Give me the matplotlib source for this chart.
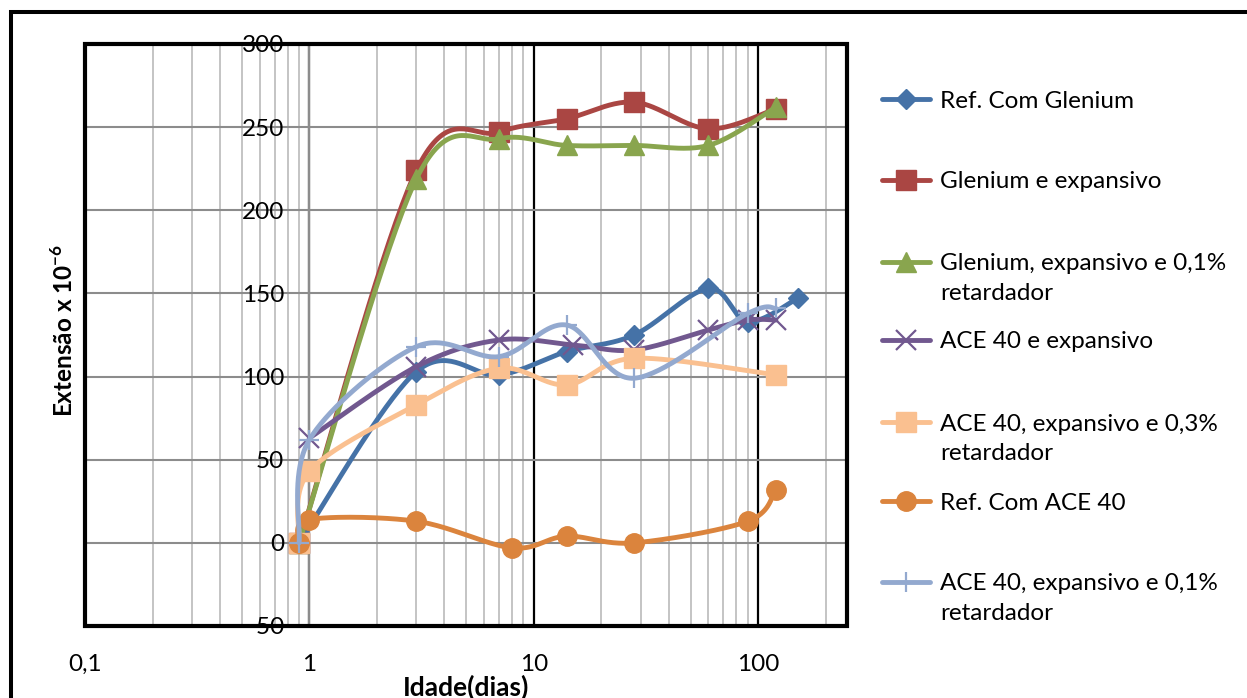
import numpy as np
import matplotlib
matplotlib.use("Agg")
import matplotlib.pyplot as plt
from matplotlib.lines import Line2D
from matplotlib.patches import Rectangle
from matplotlib.ticker import FixedLocator, FixedFormatter, LogLocator, NullFormatter

# ---- data: age (days) and strain (x 10^-6) for each mix ----
age_ref_glenium = [0.9, 3, 7, 14, 28, 60, 90, 150]
ext_ref_glenium = [0, 103, 101, 115, 125, 153, 133, 147]

age_glenium_exp = [0.9, 3, 7, 14, 28, 60, 120]
ext_glenium_exp = [0, 224, 247, 255, 265, 249, 261]

age_glenium_exp_ret = [0.9, 3, 7, 14, 28, 60, 120]
ext_glenium_exp_ret = [0, 219, 243, 239, 239, 239, 262]

age_ace_exp = [1, 3, 7, 15, 28, 60, 90, 120]
ext_ace_exp = [63, 106, 122, 119, 116, 128, 134, 134]

age_ace_exp_ret03 = [0.9, 1, 3, 7, 14, 28, 120]
ext_ace_exp_ret03 = [0, 43, 83, 105, 95, 111, 101]

age_ref_ace = [0.9, 1, 3, 8, 14, 28, 90, 120]
ext_ref_ace = [0, 14, 13, -3, 4, 0, 13, 32]

age_ace_exp_ret01 = [0.9, 1, 3, 7, 14, 28, 90, 120]
ext_ace_exp_ret01 = [0, 62, 118, 112, 131, 99, 138, 141]

labels = [
    "Ref. Com Glenium",
    "Glenium e expansivo",
    "Glenium, expansivo e 0,1%\nretardador",
    "ACE 40 e expansivo",
    "ACE 40, expansivo e 0,3%\nretardador",
    "Ref. Com ACE 40",
    "ACE 40, expansivo e 0,1%\nretardador",
]

x_ticks = [0.1, 1, 10, 100]
x_tick_labels = ["0,1", "1", "10", "100"]
y_ticks = [-50, 0, 50, 100, 150, 200, 250, 300]

# ---- styling ----
W, H = 1247, 698
plt.rcParams["font.family"] = ["Lato", "DejaVu Sans"]
plt.rcParams["mathtext.fontset"] = "custom"
plt.rcParams["mathtext.rm"] = "Lato"
plt.rcParams["mathtext.bf"] = "Lato:bold"
FS = 17.5

series = [
    (age_ref_glenium, ext_ref_glenium, "#4572A7", dict(marker="D", ms=10)),
    (age_glenium_exp, ext_glenium_exp, "#AA4643", dict(marker="s", ms=14)),
    (age_glenium_exp_ret, ext_glenium_exp_ret, "#89A54E", dict(marker="^", ms=14)),
    (age_ace_exp, ext_ace_exp, "#71588F", dict(marker="x", ms=14, mew=1.6)),
    (age_ace_exp_ret03, ext_ace_exp_ret03, "#FAC090", dict(marker="s", ms=14)),
    (age_ref_ace, ext_ref_ace, "#DB843D", dict(marker="o", ms=14)),
    (age_ace_exp_ret01, ext_ace_exp_ret01, "#93A9CF", dict(marker="+", ms=14, mew=1.6)),
]


def smooth(xs, ys, steps=40):
    """Cubic Bezier smoothing in (log10 x, y) space, spreadsheet style."""
    p = np.column_stack([np.log10(xs), np.asarray(ys, float)])
    pe = np.vstack([p[0], p, p[-1]])
    t = np.linspace(0, 1, steps)[:, None]
    out = []
    for i in range(len(p) - 1):
        p0, p1, p2, p3 = pe[i], pe[i + 1], pe[i + 2], pe[i + 3]
        c1 = p1 + (p2 - p0) / 6.0
        c2 = p2 - (p3 - p1) / 6.0
        seg = ((1 - t) ** 3) * p1 + 3 * ((1 - t) ** 2) * t * c1 \
            + 3 * (1 - t) * t ** 2 * c2 + t ** 3 * p2
        out.append(seg if i == 0 else seg[1:])
    out = np.vstack(out)
    return 10 ** out[:, 0], out[:, 1]


def fx(px):
    return px / W


def fy(py):
    return 1 - py / H


fig = plt.figure(figsize=(W / 100, H / 100), dpi=100)
fig.patch.set_facecolor("white")
ax = fig.add_axes([fx(85), fy(626), (847 - 85) / W, (626 - 44) / H])
ax.set_xscale("log")
ax.set_xlim(0.1, 249)
ax.set_ylim(-50, 300)

ax.xaxis.set_major_locator(FixedLocator(x_ticks))
ax.xaxis.set_major_formatter(FixedFormatter(x_tick_labels))
ax.xaxis.set_minor_locator(LogLocator(base=10, subs=np.arange(2, 10)))
ax.xaxis.set_minor_formatter(NullFormatter())
ax.yaxis.set_major_locator(FixedLocator(y_ticks))
ax.yaxis.set_major_formatter(FixedFormatter([str(v) for v in y_ticks]))

ax.grid(which="minor", axis="x", color="#BFBFBF", lw=1.3)
ax.grid(which="major", axis="x", color="black", lw=1.6)
ax.grid(which="major", axis="y", color="#8C8C8C", lw=1.5)
ax.set_axisbelow(True)

for s in ["top", "right", "bottom"]:
    ax.spines[s].set_visible(False)
ax.spines["left"].set_position(("data", 1))
ax.spines["left"].set_color("#8C8C8C")
ax.spines["left"].set_linewidth(1.5)

ax.tick_params(axis="x", which="both", length=0, pad=20, labelsize=FS)
ax.tick_params(axis="y", which="both", length=0, pad=18, labelsize=FS)

# thick plot-area frame
ax.add_patch(Rectangle((0, 0), 1, 1, transform=ax.transAxes, fill=False,
                       ec="black", lw=3.0, clip_on=False, zorder=5))

for i, (xs, ys, col, mk) in enumerate(series):
    sx, sy = smooth(xs, ys)
    ax.plot(sx, sy, color=col, lw=3.5, solid_capstyle="round",
            solid_joinstyle="round", zorder=3 + i * 0.1)
    ax.plot(xs, ys, ls="none", color=col, mfc=col, mec=col,
            zorder=3 + i * 0.1 + 0.05, clip_on=False, **mk)

# axis titles
fig.text(fx(466), fy(687), "Idade(dias)", ha="center", va="center",
         fontsize=19, fontweight="bold")
fig.text(fx(64), fy(330), r"Extensão x 10$^{\mathbf{-6}}$", ha="center",
         va="center", rotation=90, fontsize=FS, fontweight="bold")

# legend drawn at the right of the plot area
legend_rows = [99, 180, 262, 340, 422, 501, 582]
line_gap = 30
for (xs, ys, col, mk), lab, ry in zip(series, labels, legend_rows):
    fig.add_artist(Line2D([fx(882), fx(930)], [fy(ry), fy(ry)],
                          transform=fig.transFigure, color=col, lw=3.5,
                          solid_capstyle="round"))
    fig.add_artist(Line2D([fx(906)], [fy(ry)], transform=fig.transFigure,
                          ls="none", color=col, mfc=col, mec=col, **mk))
    for k, part in enumerate(lab.split("\n")):
        fig.text(fx(940), fy(ry + k * line_gap + 8.5), part, ha="left",
                 va="baseline", fontsize=FS)

# outer chart border
fig.add_artist(Rectangle((fx(10.5), -0.1), 1.5, fy(12.5) + 0.1,
                         transform=fig.transFigure, fill=False,
                         ec="black", lw=2.9))

fig.savefig("out.png", dpi=100)
